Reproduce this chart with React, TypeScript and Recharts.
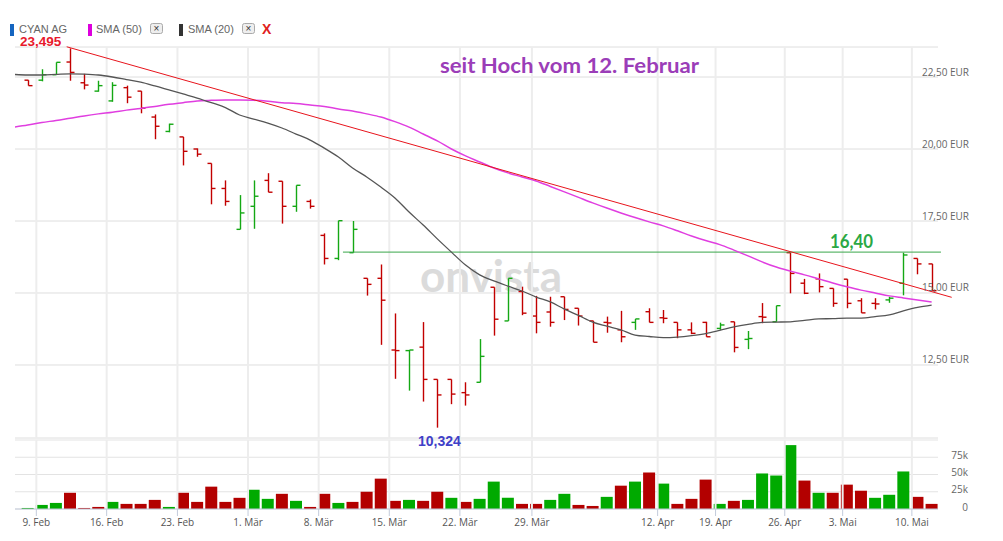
import React from 'react';
import {
  ComposedChart,
  Bar,
  Line,
  XAxis,
  YAxis,
  CartesianGrid,
  ReferenceLine,
  Cell
} from 'recharts';

// daily OHLC, index 0 = first trading day shown
const opens = [22.39, 22.39, 22.58, 23.02, 22.30, 22.01, 21.67, 22.13, 22.01, 21.11, 20.61, 20.42, 20.00, 19.50, 18.63, 17.21, 18.01, 18.91, 18.88, 18.01, 18.18, 17.00, 16.20, 16.40, 15.51, 15.51, 13.02, 13.00, 13.12, 12.00, 12.00, 11.54, 11.90, 15.20, 14.03, 15.05, 14.20, 14.34, 14.87, 14.47, 14.03, 13.98, 13.72, 13.98, 14.35, 14.14, 13.98, 13.72, 13.98, 13.77, 14.00, 13.39, 14.18, 14.00, 16.40, 15.34, 15.49, 15.16, 15.48, 14.73, 14.64, 14.76, 15.34, 16.20, 16.01];
const highs = [22.39, 22.77, 23.01, 23.495, 22.61, 22.37, 22.32, 22.20, 22.01, 21.20, 20.88, 20.42, 20.02, 19.50, 18.91, 18.40, 18.91, 19.16, 18.88, 18.74, 18.25, 17.07, 17.51, 17.50, 15.51, 15.99, 14.29, 13.02, 13.99, 12.00, 12.00, 11.90, 13.40, 15.20, 15.51, 15.22, 14.90, 14.87, 14.87, 14.47, 14.03, 14.18, 14.38, 14.10, 14.47, 14.41, 13.98, 13.98, 14.00, 13.97, 14.00, 13.68, 14.65, 14.56, 16.40, 15.49, 15.68, 15.16, 15.48, 14.82, 14.82, 14.87, 16.40, 16.20, 16.01];
const lows = [22.20, 22.35, 22.58, 22.37, 22.07, 21.99, 21.64, 21.59, 21.24, 20.34, 20.58, 19.43, 19.73, 18.08, 18.03, 17.21, 17.23, 18.50, 17.41, 17.82, 17.93, 15.99, 16.14, 16.40, 14.91, 13.20, 12.02, 11.61, 11.23, 10.324, 11.14, 11.09, 11.90, 13.52, 14.03, 14.23, 13.60, 13.83, 14.06, 13.87, 13.29, 13.62, 13.29, 13.72, 13.98, 13.95, 13.43, 13.57, 13.48, 13.72, 12.94, 13.05, 13.95, 14.00, 14.99, 14.96, 15.02, 14.52, 14.47, 14.31, 14.43, 14.66, 14.92, 15.65, 15.08];
const closes = [22.20, 22.58, 23.01, 22.66, 22.22, 22.20, 22.21, 21.80, 21.42, 20.79, 20.86, 19.92, 19.82, 18.63, 18.18, 17.78, 18.36, 18.50, 18.01, 18.74, 18.01, 16.20, 17.51, 17.21, 15.30, 14.75, 13.00, 13.02, 12.00, 11.46, 11.49, 11.46, 12.80, 14.09, 15.51, 14.30, 13.98, 13.98, 14.43, 14.20, 13.29, 13.96, 13.48, 14.10, 13.98, 14.12, 13.72, 13.60, 13.48, 13.89, 13.11, 13.42, 14.16, 14.56, 15.68, 14.99, 15.22, 14.64, 14.64, 14.31, 14.62, 14.82, 16.32, 16.01, 15.08];

// volume in thousands, 1 = up day (green)
const volumes = [1.5, 5.9, 8.8, 23.5, 1.5, 3, 10.3, 7.4, 7.4, 13.2, 3, 23.5, 10.3, 32.4, 10.3, 16.2, 27.9, 14.7, 22, 11.8, 3, 22, 8.8, 10.3, 25, 44, 11.8, 13.2, 11.8, 25, 16.2, 10.3, 14.7, 39.7, 16.2, 7.4, 7.4, 13.2, 22, 5.9, 4.4, 17.6, 33.8, 39.7, 52.9, 36.8, 7.4, 14.7, 42.6, 7.4, 11.8, 13.2, 51.5, 48.5, 92.6, 41.2, 23.5, 23.5, 35.3, 26.5, 16.2, 20.6, 54.4, 17.6, 7.4];
const volumeUp = [1, 1, 1, 0, 0, 0, 1, 0, 0, 0, 1, 0, 0, 0, 0, 0, 1, 1, 0, 1, 0, 0, 1, 0, 0, 0, 0, 1, 0, 0, 1, 0, 1, 1, 1, 0, 0, 1, 1, 0, 0, 1, 0, 1, 0, 1, 0, 0, 0, 1, 0, 1, 1, 1, 1, 0, 1, 0, 0, 0, 1, 1, 1, 0, 0];

// moving averages, first value is the day before index 0
const sma20 = [22.59, 22.57, 22.57, 22.59, 22.61, 22.60, 22.57, 22.50, 22.41, 22.32, 22.19, 22.05, 21.91, 21.77, 21.61, 21.44, 21.18, 21.04, 20.90, 20.73, 20.52, 20.31, 20.03, 19.72, 19.34, 19.03, 18.68, 18.30, 17.81, 17.36, 16.88, 16.42, 15.97, 15.63, 15.42, 15.24, 15.07, 14.86, 14.69, 14.44, 14.22, 13.99, 13.85, 13.72, 13.54, 13.49, 13.45, 13.47, 13.52, 13.59, 13.70, 13.82, 13.91, 13.98, 13.99, 14.00, 14.05, 14.10, 14.11, 14.13, 14.13, 14.18, 14.24, 14.38, 14.50, 14.58];
const sma50 = [20.76, 20.83, 20.92, 20.99, 21.07, 21.15, 21.22, 21.28, 21.35, 21.41, 21.48, 21.55, 21.61, 21.67, 21.69, 21.70, 21.70, 21.69, 21.66, 21.61, 21.58, 21.53, 21.48, 21.39, 21.32, 21.22, 21.11, 20.95, 20.76, 20.52, 20.28, 20.00, 19.76, 19.55, 19.34, 19.17, 19.03, 18.89, 18.70, 18.51, 18.32, 18.13, 17.95, 17.78, 17.62, 17.47, 17.33, 17.16, 16.98, 16.82, 16.68, 16.49, 16.29, 16.08, 15.90, 15.76, 15.63, 15.49, 15.35, 15.22, 15.10, 15.00, 14.90, 14.83, 14.76, 14.69];

const tickPos = [0.61, 5.59, 10.6, 15.6, 20.6, 25.6, 30.6, 35.7, 44.6, 48.7, 53.6, 57.7, 62.6];
const tickLabels = ['9. Feb', '16. Feb', '23. Feb', '1. Mär', '8. Mär', '15. Mär', '22. Mär', '29. Mär', '12. Apr', '19. Apr', '26. Apr', '3. Mai', '10. Mai'];
const priceTicks = [12.5, 15, 17.5, 20, 22.5];
const volumeTicks = [0, 25000, 50000, 75000, 100000];

const trendLine = [{ x: 2.76, y: 23.55 }, { x: 65.42, y: 14.85 }];
const resistance = [{ x: 22.32, y: 16.42 }, { x: 64.66, y: 16.42 }];

const X_DOMAIN = [-0.9, 64.45];
const RED = '#c20000';
const GREEN = '#14a814';

const priceData = sma20.map((s, k) => {
  const i = k - 1;
  return {
    i,
    range: i >= 0 ? [lows[i], highs[i]] : null,
    open: i >= 0 ? opens[i] : null,
    close: i >= 0 ? closes[i] : null,
    sma20: s,
    sma50: sma50[k]
  };
});

const volumeData = volumes.map((v, i) => ({ i, vol: v * 1000, up: volumeUp[i] }));

const OhlcShape = (props: any) => {
  const { x, y, width, height, payload } = props;
  if (!payload || !payload.range) return null;
  const [lo, hi] = payload.range;
  const cx = Math.round(x + width / 2) + 0.5;
  const toY = (v: number) => y + ((hi - v) / (hi - lo)) * height;
  const color = payload.close >= payload.open ? GREEN : RED;
  const yo = toY(payload.open);
  const yc = toY(payload.close);
  return (
    <g stroke={color} strokeWidth={1.4}>
      <line x1={cx} x2={cx} y1={y} y2={y + height} />
      <line x1={cx - 4} x2={cx} y1={yo} y2={yo} />
      <line x1={cx} x2={cx + 4} y1={yc} y2={yc} />
    </g>
  );
};

const PriceTick = (props: any) => {
  const { x, y, payload } = props;
  return (
    <text x={x + 31} y={y - 5} dy="0.35em" textAnchor="end" fontSize={10} fill="#666" fontFamily="'Open Sans', sans-serif">
      {payload.value.toFixed(2).replace('.', ',') + ' EUR'}
    </text>
  );
};

const VolumeTick = (props: any) => {
  const { x, y, payload } = props;
  const v = payload.value;
  if (v >= 100000) return <g />;
  return (
    <text x={x + 30} y={y - 2} dy="0.35em" textAnchor="end" fontSize={10} fill="#666" fontFamily="'Open Sans', sans-serif">
      {v === 0 ? '0' : v / 1000 + 'k'}
    </text>
  );
};

const dateLabel = (v: number) => {
  const k = tickPos.indexOf(v);
  return k >= 0 ? tickLabels[k] : '';
};

export default function App() {
  return (
    <div style={{ position: 'absolute', left: 0, top: 0, width: 1003, height: 541, background: '#fff', overflow: 'hidden', fontFamily: "'Open Sans', sans-serif" }}>
      <svg width={1003} height={541} style={{ position: 'absolute', left: 0, top: 0 }}>
        <text x={420} y={292} fontFamily="Lato" fontWeight={700} fontSize={44} fill="#dbdbdb" textLength={142} lengthAdjust="spacingAndGlyphs">onvista</text>
      </svg>

      <div style={{ position: 'absolute', left: 0, top: 0 }}>
        <ComposedChart width={1003} height={440} data={priceData} margin={{ top: 47, right: 0, bottom: 2, left: 15 }}>
          <CartesianGrid vertical={false} stroke="#dedede" />
          {tickPos.map(t => (
            <ReferenceLine key={t} x={t} stroke="#ededed" strokeWidth={2} />
          ))}
          <XAxis type="number" dataKey="i" domain={X_DOMAIN} allowDataOverflow ticks={tickPos} hide />
          <YAxis
            orientation="right"
            width={65}
            domain={[9.965, 23.542]}
            allowDataOverflow
            ticks={priceTicks}
            interval={0}
            axisLine={false}
            tickLine={false}
            tickSize={0}
            tickMargin={0}
            tick={PriceTick}
          />
          <ReferenceLine segment={resistance} stroke="#3aa64a" strokeWidth={1} ifOverflow="visible" />
          <Line type="monotone" dataKey="sma50" stroke="#e03ee0" strokeWidth={1.5} dot={false} isAnimationActive={false} />
          <Line type="monotone" dataKey="sma20" stroke="#555" strokeWidth={1.3} dot={false} isAnimationActive={false} />
          <ReferenceLine segment={trendLine} stroke="#e8141c" strokeWidth={1} ifOverflow="visible" />
          <Bar dataKey="range" barSize={8} shape={OhlcShape} isAnimationActive={false} />
        </ComposedChart>
      </div>

      <div style={{ position: 'absolute', left: 0, top: 438 }}>
        <ComposedChart width={1003} height={103} data={volumeData} margin={{ top: 2, right: 0, bottom: 0, left: 15 }}>
          <CartesianGrid vertical={false} stroke="#e3e3e3" />
          {tickPos.map(t => (
            <ReferenceLine key={t} x={t} stroke="#ededed" strokeWidth={2} />
          ))}
          <XAxis
            type="number"
            dataKey="i"
            domain={X_DOMAIN}
            allowDataOverflow
            ticks={tickPos}
            interval={0}
            tickFormatter={dateLabel}
            height={32}
            axisLine={{ stroke: '#c3cbdb' }}
            tickLine={{ stroke: '#c3cbdb' }}
            tickSize={7}
            tickMargin={3}
            tick={{ fontSize: 10, fill: '#555', fontFamily: "'Open Sans', sans-serif" }}
          />
          <YAxis
            orientation="right"
            width={65}
            domain={[0, 100000]}
            allowDataOverflow
            ticks={volumeTicks}
            interval={0}
            axisLine={false}
            tickLine={false}
            tickSize={0}
            tickMargin={0}
            tick={VolumeTick}
          />
          <Bar dataKey="vol" barSize={12} isAnimationActive={false}>
            {volumeData.map(d => (
              <Cell key={d.i} fill={d.up ? '#00aa00' : '#b30000'} />
            ))}
          </Bar>
        </ComposedChart>
      </div>

      <svg width={1003} height={541} style={{ position: 'absolute', left: 0, top: 0, pointerEvents: 'none' }}>
        <g fontFamily="'Liberation Sans', Arial, sans-serif" fontSize={11} fill="#666">
          <rect x={10} y={24} width={4} height={12} fill="#1565c0" />
          <text x={19} y={33}>CYAN AG</text>
          <rect x={88} y={24} width={4} height={12} fill="#dd00dd" />
          <text x={96} y={33}>SMA (50)</text>
          <rect x={150.5} y={23.5} width={12} height={10} rx={2} fill="#eee" stroke="#aaa" />
          <text x={156.5} y={32} textAnchor="middle" fontSize={10} fill="#333">×</text>
          <rect x={179} y={24} width={4} height={12} fill="#333" />
          <text x={188} y={33}>SMA (20)</text>
          <rect x={242.5} y={23.5} width={12} height={10} rx={2} fill="#eee" stroke="#aaa" />
          <text x={248.5} y={32} textAnchor="middle" fontSize={10} fill="#333">×</text>
          <text x={262} y={34} fontSize={14} fontWeight={700} fill="#e02020">X</text>
        </g>
        <text x={20} y={46} fontFamily="'Liberation Sans', Arial, sans-serif" fontWeight={700} fontSize={13.5} fill="#e8192c">23,495</text>
        <text x={418} y={446} fontFamily="'Liberation Sans', Arial, sans-serif" fontWeight={700} fontSize={14} fill="#4040c8">10,324</text>
        <text x={440} y={73} fontFamily="Lato" fontWeight={700} fontSize={21} fill="#9b3db8" textLength={259} lengthAdjust="spacingAndGlyphs">seit Hoch vom 12. Februar</text>
        <text x={830} y={248} fontFamily="Lato" fontWeight={700} fontSize={18} fill="#2aa844" textLength={43} lengthAdjust="spacingAndGlyphs">16,40</text>
      </svg>
    </div>
  );
}
